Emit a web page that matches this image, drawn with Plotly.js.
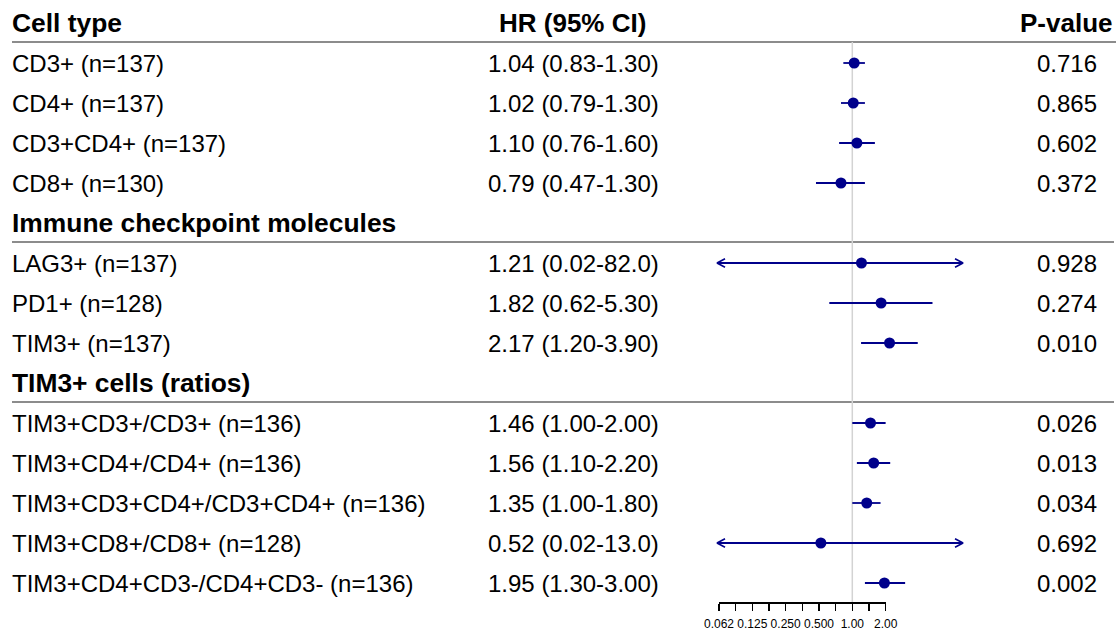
<!DOCTYPE html>
<html>
<head>
<meta charset="utf-8">
<script src="https://cdn.plot.ly/plotly-3.0.1.min.js"></script>
<style>html,body{margin:0;padding:0;background:#fff;}#chart{width:1116px;height:631px;}</style>
</head>
<body>
<div id="chart"></div>
<script>
// ---------------- DATA ----------------
const groups = ["Cell type", "Immune checkpoint molecules", "TIM3+ cells (ratios)"];
const groupOf = [0, 0, 0, 0, 1, 1, 1, 2, 2, 2, 2, 2];
const labels = [
  "CD3+ (n=137)", "CD4+ (n=137)", "CD3+CD4+ (n=137)", "CD8+ (n=130)",
  "LAG3+ (n=137)", "PD1+ (n=128)", "TIM3+ (n=137)",
  "TIM3+CD3+/CD3+ (n=136)", "TIM3+CD4+/CD4+ (n=136)", "TIM3+CD3+CD4+/CD3+CD4+ (n=136)",
  "TIM3+CD8+/CD8+ (n=128)", "TIM3+CD4+CD3-/CD4+CD3- (n=136)"
];
const hr    = [1.04, 1.02, 1.10, 0.79, 1.21, 1.82, 2.17, 1.46, 1.56, 1.35, 0.52, 1.95];
const lower = [0.83, 0.79, 0.76, 0.47, 0.02, 0.62, 1.20, 1.00, 1.10, 1.00, 0.02, 1.30];
const upper = [1.30, 1.30, 1.60, 1.30, 82.0, 5.30, 3.90, 2.00, 2.20, 1.80, 13.0, 3.00];
const pval  = ["0.716", "0.865", "0.602", "0.372", "0.928", "0.274", "0.010", "0.026", "0.013", "0.034", "0.692", "0.002"];
const tickValues = [0.0625, 0.125, 0.25, 0.5, 1, 2];
const tickLabels = ["0.062", "0.125", "0.250", "0.500", "1.00", "2.00"];
const clipRange = [0.06, 10];
const refValue = 1;
const colHeaders = ["HR (95% CI)", "P-value"];

// ---------------- LAYOUT CONSTANTS ----------------
const W = 1116, H = 631;
const rowTop = 23, rowH = 40, axisPx = 602;
const px1 = 852.3, pxPerLog2 = 33.33;
const forestPx = [700, 985];
const navy = "#00008B";
const FONT = "Liberation Sans, Arial, sans-serif";

// row index for each item and group header rows
let rowOf = [], headerRow = [];
let r = 0, g = -1;
for (let i = 0; i < labels.length; i++) {
  if (groupOf[i] !== g) { g = groupOf[i]; headerRow.push(r); r++; }
  rowOf.push(r); r++;
}
const fmt = v => v.toFixed(2);
const fmtCI = v => (v >= 10 ? v.toFixed(1) : v.toFixed(2));
const hrText = hr.map((v, i) => fmt(v) + " (" + fmt(lower[i]) + "-" + fmtCI(upper[i]) + ")");

const log10v = px => Math.log10(Math.pow(2, (px - px1) / pxPerLog2));

// CI lines (clipped) and chevrons
let lx = [], ly = [], ax = [], ay = [];
const chevW = Math.pow(2, 8 / pxPerLog2), chevH = 0.105;
for (let i = 0; i < hr.length; i++) {
  const lo = Math.max(lower[i], clipRange[0]);
  const hi = Math.min(upper[i], clipRange[1]);
  lx.push(lo, hi, null); ly.push(rowOf[i], rowOf[i], null);
  if (lower[i] < clipRange[0]) {
    ax.push(lo * chevW, lo, lo * chevW, null);
    ay.push(rowOf[i] - chevH, rowOf[i], rowOf[i] + chevH, null);
  }
  if (upper[i] > clipRange[1]) {
    ax.push(hi / chevW, hi, hi / chevW, null);
    ay.push(rowOf[i] - chevH, rowOf[i], rowOf[i] + chevH, null);
  }
}

const traces = [
  {x: [refValue, refValue], y: [headerRow[0] + 0.475, (axisPx - rowTop) / rowH], xaxis: "x", yaxis: "y2",
   mode: "lines", line: {color: "#d3d3d3", width: 1.5}, hoverinfo: "skip"},
  {x: lx, y: ly, xaxis: "x", yaxis: "y2", mode: "lines", line: {color: navy, width: 1.8}, hoverinfo: "skip"},
  {x: ax, y: ay, xaxis: "x", yaxis: "y2", mode: "lines", line: {color: navy, width: 1.6}, hoverinfo: "skip"},
  {x: hr, y: rowOf, xaxis: "x", yaxis: "y2", mode: "markers", marker: {color: navy, size: 11}, hoverinfo: "skip"},
  {x: [refValue], y: [0], xaxis: "x3", yaxis: "y2", mode: "none", hoverinfo: "skip"}
];

const annotations = [];
const ann = (x, y, text, anchor, size) => annotations.push({
  xref: "paper", yref: "y2", x: x / W, y: y, text: text, xanchor: anchor, yanchor: "middle",
  showarrow: false, font: {family: FONT, size: size, color: "#000"}
});
// group headers
groups.forEach((t, k) => ann(10, headerRow[k], "<b>" + t + "</b>", "left", 26.4));
ann(572.5, headerRow[0], "<b>" + colHeaders[0] + "</b>", "center", 26);
ann(1066.5, headerRow[0], "<b>" + colHeaders[1] + "</b>", "center", 26);
labels.forEach((t, i) => {
  ann(10, rowOf[i], t, "left", 24);
  ann(573, rowOf[i], hrText[i], "center", 24);
  ann(1066.5, rowOf[i], pval[i], "center", 24);
});

const shapes = headerRow.map((hrw, k) => ({
  type: "line", xref: "paper", yref: "y2", x0: 12 / W, x1: (k === 0 ? 1116 : 1114) / W,
  y0: hrw + 0.475, y1: hrw + 0.475, line: {color: "#666666", width: 1.6}, layer: "below"
}));

// minor ticks halfway (in log scale) between labelled ticks
let tv = [], tt = [];
tickValues.forEach((v, k) => {
  tv.push(v); tt.push(tickLabels[k]);
  if (k < tickValues.length - 1) { tv.push(Math.sqrt(v * tickValues[k + 1])); tt.push(""); }
});

const layout = {
  width: W, height: H, margin: {l: 0, r: 0, t: 0, b: 0},
  paper_bgcolor: "#fff", plot_bgcolor: "rgba(0,0,0,0)", showlegend: false,
  font: {family: FONT, color: "#000"},
  xaxis: {type: "log", domain: [forestPx[0] / W, forestPx[1] / W],
    range: [log10v(forestPx[0]), log10v(forestPx[1])], anchor: "y2",
    visible: false, showgrid: false, zeroline: false, fixedrange: true},
  xaxis3: {type: "log", domain: [(px1 - 4 * pxPerLog2) / W, (px1 + pxPerLog2) / W],
    range: [Math.log10(tickValues[0]), Math.log10(tickValues[tickValues.length - 1])], anchor: "y2",
    showline: true, linecolor: "#000", linewidth: 1.5, ticks: "outside", ticklen: 7, tickwidth: 1.5,
    tickcolor: "#000", tickmode: "array", tickvals: tv, ticktext: tt, showgrid: false, zeroline: false,
    ticklabelstandoff: 3,
    tickfont: {family: FONT, size: 12, color: "#000"}, fixedrange: true},
  yaxis2: {domain: [(H - axisPx) / H, 1], range: [(axisPx - rowTop) / rowH, -rowTop / rowH],
    visible: false, showgrid: false, zeroline: false, fixedrange: true},
  annotations: annotations, shapes: shapes
};

Plotly.newPlot("chart", traces, layout, {staticPlot: true, displayModeBar: false});
</script>
</body>
</html>
